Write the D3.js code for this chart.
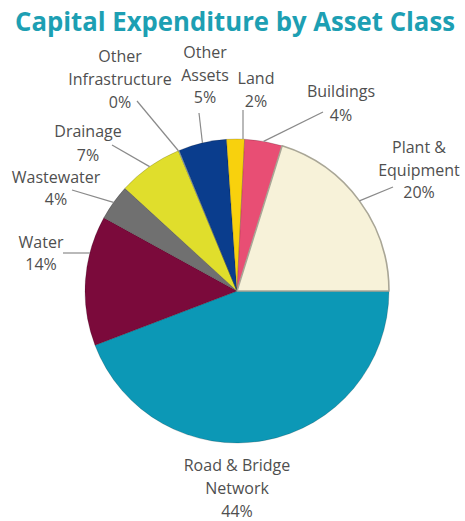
<!DOCTYPE html>
<html>
<head>
<meta charset="utf-8">
<script src="https://cdn.jsdelivr.net/npm/d3@7/dist/d3.min.js"></script>
<style>
  html, body { margin: 0; padding: 0; background: #ffffff; }
  svg { display: block; }
</style>
</head>
<body>
<svg id="chart" width="465" height="521"></svg>
<script>
// ---- data (clockwise from 3 o'clock) ----
const categories = ["Road & Bridge Network", "Water", "Wastewater", "Drainage", "Other Infrastructure", "Other Assets", "Land", "Buildings", "Plant & Equipment"];
const values = [44.2, 13.8, 3.8, 6.9, 0.1, 5.1, 1.9, 4.0, 20.2];
const pctLabels = ["44%", "14%", "4%", "7%", "0%", "5%", "2%", "4%", "20%"];
const labelLines = [
  ["Road & Bridge", "Network"],
  ["Water"],
  ["Wastewater"],
  ["Drainage"],
  ["Other", "Infrastructure"],
  ["Other", "Assets"],
  ["Land"],
  ["Buildings"],
  ["Plant &", "Equipment"]
];
const title = "Capital Expenditure by Asset Class";

// ---- styles / layout ----
const colors = ["#0c98b6", "#7b0a3b", "#707070", "#e0de2c", "#8fb8d8", "#0a3d8d", "#f8d10d", "#e84e74", "#f7f2d9"];
const cx = 237, cy = 291, R = 152;
const labelLayout = [
  { x: 237, y0: 471, dy: 23, leader: null },
  { x: 41,  y0: 248, dy: 22, leader: [63, 253], mode: "h" },
  { x: 56,  y0: 183, dy: 22, leader: [72, 190] },
  { x: 88,  y0: 137, dy: 24, leader: [112, 145] },
  { x: 120, y0: 62,  dy: 23, leader: [137, 101], mode: "edgeStart" },
  { x: 205, y0: 58,  dy: 22.5, leader: [199, 113] },
  { x: 256, y0: 84,  dy: 23, leader: [243, 110], mode: "v" },
  { x: 341, y0: 97,  dy: 24, leader: [323, 112] },
  { x: 419, y0: 153, dy: 22.5, leader: [393, 187] }
];

const svg = d3.select("#chart");

const titleG = svg.append("g");
const titleT = titleG.append("text")
  .attr("x", 0).attr("y", 0)
  .attr("text-anchor", "middle")
  .attr("font-family", "'Open Sans', sans-serif")
  .attr("font-weight", "bold")
  .attr("font-size", 26.5)
  .attr("fill", "#1d9fb3")
  .text(title);
const natW = titleT.node().getComputedTextLength() || 440;
const sx = Math.min(1, 440 / natW);
titleG.attr("transform", `translate(235,31) scale(${sx},1)`);

const data = categories.map((c, i) => ({ name: c, value: values[i], i }));
const pie = d3.pie().value(d => d.value).sort(null)
  .startAngle(Math.PI / 2).endAngle(Math.PI / 2 + 2 * Math.PI);
const arcs = pie(data);
const arc = d3.arc().innerRadius(0).outerRadius(R);

const g = svg.append("g").attr("transform", `translate(${cx},${cy})`);
g.selectAll("path.slice").data(arcs).enter().append("path")
  .attr("class", "slice")
  .attr("d", arc)
  .attr("fill", d => colors[d.data.i])
  .attr("stroke", d => d.data.i === 8 ? "#a9a696" : "rgba(0,0,0,0.25)")
  .attr("stroke-width", d => d.data.i === 8 ? 1.6 : 0.7)
  .attr("stroke-linejoin", "round");

// leaders
arcs.forEach(a => {
  const L = labelLayout[a.data.i];
  if (!L.leader) return;
  const [lx, ly] = L.leader;
  let ex, ey;
  if (L.mode === "h") {
    const ry = ly - cy;
    ex = cx - Math.sqrt(R * R - ry * ry); ey = ly;
  } else if (L.mode === "v") {
    const rx = lx - cx;
    ex = lx; ey = cy - Math.sqrt(R * R - rx * rx);
  } else if (L.mode === "edgeStart") {
    ex = cx + R * Math.sin(a.startAngle); ey = cy - R * Math.cos(a.startAngle);
  } else {
    const m = (a.startAngle + a.endAngle) / 2;
    ex = cx + R * Math.sin(m); ey = cy - R * Math.cos(m);
  }
  svg.append("line")
    .attr("x1", lx).attr("y1", ly).attr("x2", ex).attr("y2", ey)
    .attr("stroke", "#8a8a8a").attr("stroke-width", 1.2);
});

// labels
arcs.forEach(a => {
  const i = a.data.i;
  const L = labelLayout[i];
  const lines = labelLines[i].concat([pctLabels[i]]);
  const t = svg.append("text")
    .attr("text-anchor", "middle")
    .attr("font-family", "'Open Sans', sans-serif")
    .attr("font-size", 16)
    .attr("fill", "#4f4f4f");
  lines.forEach((s, k) => {
    t.append("tspan").attr("x", L.x).attr("y", L.y0 + k * L.dy).text(s);
  });
});
</script>
</body>
</html>
